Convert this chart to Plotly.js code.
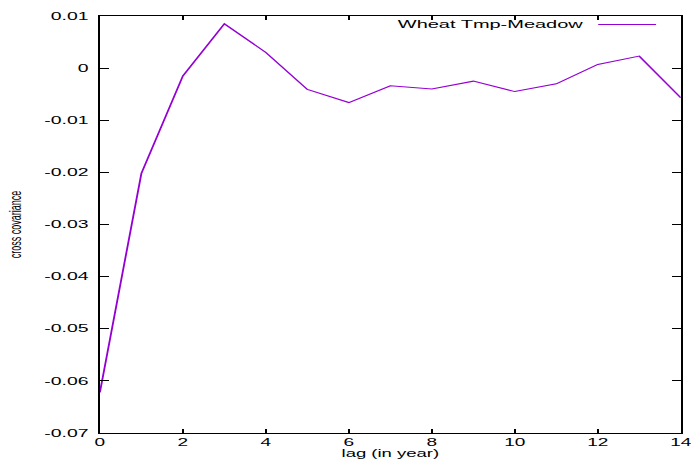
<!DOCTYPE html>
<html>
<head>
<meta charset="utf-8">
<script src="https://cdn.plot.ly/plotly-3.0.1.min.js"></script>
<style>
  html, body { margin: 0; padding: 0; background: #fff; }
  #wrap { width: 691px; height: 459px; overflow: hidden; }
  #plot { width: 373.5px; height: 459px; transform: scaleX(1.85); transform-origin: 0 0; }
</style>
</head>
<body>
<div id="wrap"><div id="plot"></div></div>
<script>
// Data
const lags = [0, 1, 2, 3, 4, 5, 6, 7, 8, 9, 10, 11, 12, 13, 14];
const crossCov = [-0.0622, -0.0202, -0.0015, 0.0085, 0.0030, -0.0041, -0.0066, -0.0034,
                  -0.0040, -0.0025, -0.0045, -0.0030, 0.0007, 0.0023, -0.0057];
const seriesName = "Wheat Tmp-Meadow";
const xTickVals = [0, 2, 4, 6, 8, 10, 12, 14];
const yTickVals = [0.01, 0, -0.01, -0.02, -0.03, -0.04, -0.05, -0.06, -0.07];
const yTickLabels = ["0.01", "0", "-0.01", "-0.02", "-0.03", "-0.04", "-0.05", "-0.06", "-0.07"];

const FONT = "Liberation Sans, Arial, Helvetica, sans-serif";
const LINE_COLOR = "#9400D3";

const trace = {
  x: lags,
  y: crossCov,
  type: "scatter",
  mode: "lines",
  name: seriesName,
  line: { color: LINE_COLOR, width: 1 },
  showlegend: false
};

const layout = {
  width: 373.5,
  height: 459,
  margin: { l: 54.05, r: 6.47, t: 15.7, b: 26.3, pad: 0 },
  paper_bgcolor: "#fff",
  plot_bgcolor: "#fff",
  font: { family: FONT, color: "#000", size: 10 },
  xaxis: {
    range: [0, 14],
    tickvals: xTickVals,
    ticks: "inside",
    ticklen: 4,
    tickwidth: 1,
    tickcolor: "#000",
    showline: true,
    linecolor: "#000",
    linewidth: 1,
    mirror: "ticks",
    showgrid: false,
    zeroline: false,
    ticklabeloverflow: "allow",
    tickfont: { family: FONT, size: 10.3, color: "#000" },
    title: { text: "lag (in year)", font: { family: FONT, size: 10, color: "#000" }, standoff: 3 }
  },
  yaxis: {
    range: [-0.07, 0.01],
    tickvals: yTickVals,
    ticktext: yTickLabels,
    ticks: "inside",
    ticklen: 5,
    tickwidth: 1,
    tickcolor: "#000",
    showline: true,
    linecolor: "#000",
    linewidth: 1,
    mirror: "ticks",
    showgrid: false,
    zeroline: false,
    ticklabelstandoff: 3,
    tickfont: { family: FONT, size: 10.5, color: "#000" },
    title: { text: "cross covariance", font: { family: FONT, size: 9, color: "#000" }, standoff: 10 }
  },
  annotations: [{
    xref: "paper", yref: "paper",
    x: 0.839, y: 0.980,
    xanchor: "right", yanchor: "middle",
    text: seriesName,
    showarrow: false,
    font: { family: FONT, size: 10.8, color: "#000" }
  }],
  shapes: [{
    type: "line", xref: "paper", yref: "paper",
    x0: 0.8578, x1: 0.9574, y0: 0.9794, y1: 0.9794,
    line: { color: LINE_COLOR, width: 1 }
  }]
};

Plotly.newPlot("plot", [trace], layout, { staticPlot: true, displayModeBar: false });
</script>
</body>
</html>
